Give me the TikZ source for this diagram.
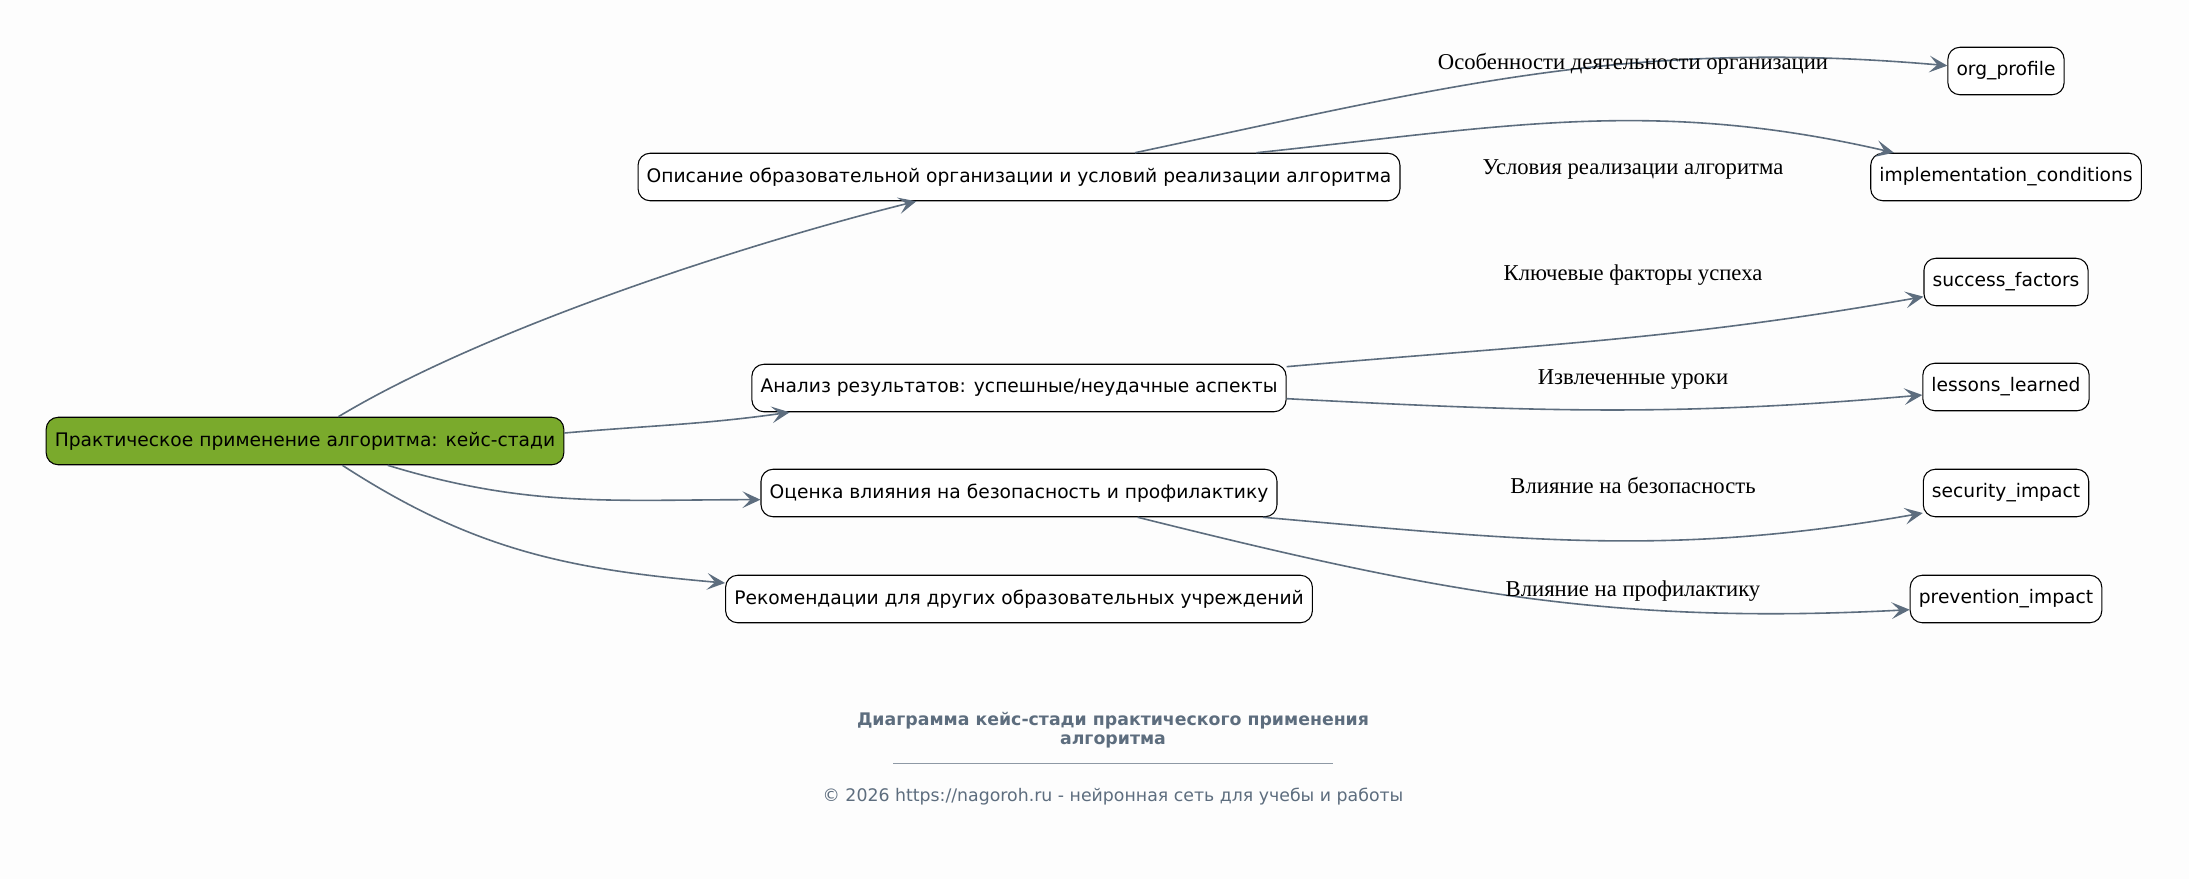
\documentclass[tikz,border=0pt]{standalone}
\usepackage{fontspec}
\setmainfont{DejaVu Sans}
\newfontfamily\lblfont{Liberation Serif}
\usetikzlibrary{arrows.meta}

\definecolor{edgegray}{HTML}{5D6D7E}
\definecolor{rootgreen}{HTML}{7AAA2C}
\definecolor{bggray}{HTML}{FDFDFD}

\tikzset{
  box/.style={draw, rounded corners=9pt, fill=white, line width=0.8pt,
    font=\fontsize{14}{16}\selectfont, minimum height=35.6pt, inner xsep=6.5pt},
  rootbox/.style={box, fill=rootgreen},
  link/.style={draw=edgegray, line width=1.2pt,
    -{Stealth[length=13.5pt, width=12.5pt, inset=6pt]}},
  lbl/.style={font=\lblfont\fontsize{17}{19}\selectfont},
}

\begin{document}
\begin{tikzpicture}[x=0.75pt, y=-0.75pt]
\fill[bggray] (0,0) rectangle (2189,879);
\useasboundingbox (0,0) rectangle (2189,879);

% root and the four branches
\node[rootbox] (root) at (305,441) {Практическое применение алгоритма: кейс-стади};
\node[box] (desc) at (1019,177) {Описание образовательной организации и условий реализации алгоритма};
\node[box] (analysis) at (1019,388) {Анализ результатов: успешные/неудачные аспекты};
\node[box] (impact) at (1019,493) {Оценка влияния на безопасность и профилактику};
\node[box] (recom) at (1019,599) {Рекомендации для других образовательных учреждений};

% leaves
\node[box] (org) at (2006,71) {org\_profile};
\node[box] (impl) at (2006,177) {implementation\_conditions};
\node[box] (success) at (2006,282) {success\_factors};
\node[box] (lessons) at (2006,387) {lessons\_learned};
\node[box] (security) at (2006,493) {security\_impact};
\node[box] (prevention) at (2006,599) {prevention\_impact};

% edges from the root
\draw[link] ([xshift=25pt]root.north) to[out=31,in=194,looseness=0.72] ([xshift=-77pt]desc.south);
\draw[link] ([yshift=6pt]root.east) to[out=5,in=188] ([xshift=-172pt]analysis.south);
\draw[link] ([xshift=62pt]root.south) to[out=-17,in=180] ([yshift=-5pt]impact.west);
\draw[link] ([xshift=28pt]root.south) to[out=-33,in=175] ([yshift=12pt]recom.west);

% edges to the leaves
\draw[link] ([xshift=87pt]desc.north) to[out=12,in=175] ([yshift=4pt]org.west);
\draw[link] ([xshift=178pt]desc.north) to[out=6,in=167] ([xshift=-84pt]impl.north);
\draw[link] ([yshift=16pt]analysis.east) to[out=5,in=190] ([yshift=-11pt]success.west);
\draw[link] ([yshift=-8pt]analysis.east) to[out=-3,in=185] ([yshift=-6pt]lessons.west);
\draw[link] ([xshift=183pt]impact.south) to[out=-5,in=190] ([yshift=-15pt]security.west);
\draw[link] ([xshift=89pt]impact.south) to[out=-14,in=183] ([yshift=-8pt]prevention.west);

% edge labels
\node[lbl] (l1) at (1633,64) {Особенности деятельности организации};
\node[lbl] (l2) at (1633,169) {Условия реализации алгоритма};
\node[lbl] (l3) at (1633,275) {Ключевые факторы успеха};
\node[lbl] (l4) at (1633,380) {Извлеченные уроки};
\node[lbl] (l5) at (1633,485) {Влияние на безопасность};
\node[lbl] (l6) at (1633,591) {Влияние на профилактику};

% caption
\node[font=\bfseries\fontsize{13}{14}\selectfont, text=edgegray, align=center] (title) at (1113,730)
  {Диаграмма кейс-стади практического применения\\алгоритма};
\draw[edgegray!70, line width=0.6pt] (893,763) -- (1333,763);
\node[font=\fontsize{13}{15}\selectfont, text=edgegray] (foot) at (1113,797)
  {© 2026 https://nagoroh.ru - нейронная сеть для учебы и работы};
\end{tikzpicture}
\end{document}
